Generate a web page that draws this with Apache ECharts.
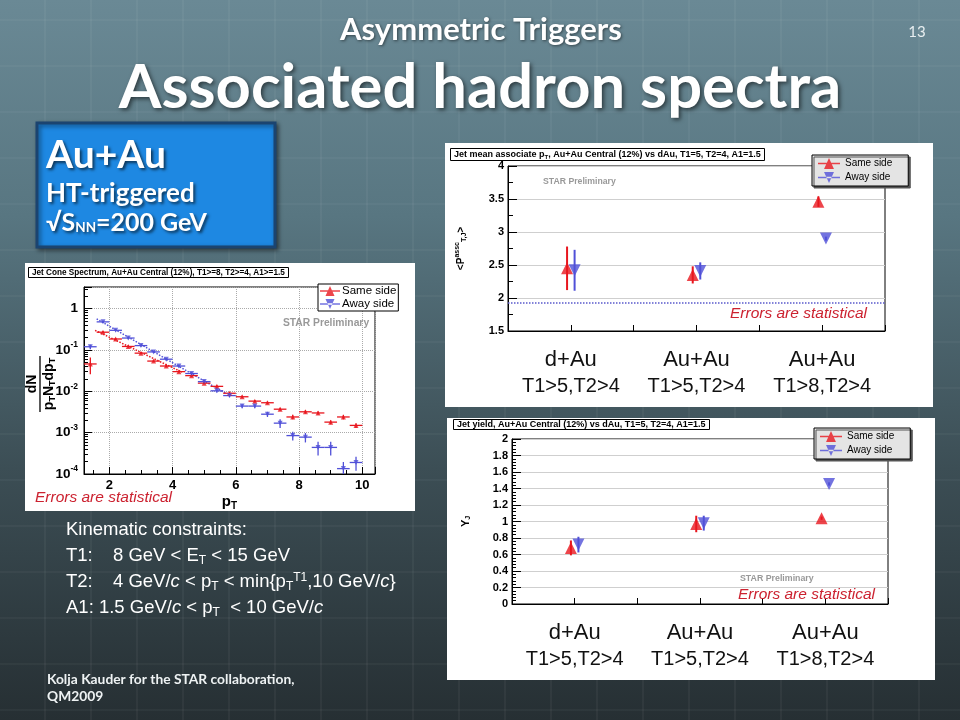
<!DOCTYPE html>
<html>
<head>
<meta charset="utf-8">
<script src="https://cdn.jsdelivr.net/npm/echarts@6/dist/echarts.min.js"></script>
<style>
html,body{margin:0;padding:0;background:#3a4a50;}
#c{width:960px;height:720px;}
</style>
</head>
<body>
<div id="c"></div>
<script>
// ---------------- data ----------------
// Jet cone spectrum (Au+Au central 12%, T1>=8, T2>=4, A1>=1.5)
const spectrumPt = [1.4,1.8,2.2,2.6,3.0,3.4,3.8,4.2,4.6,5.0,5.4,5.8,6.2,6.6,7.0,7.4,7.8,8.2,8.6,9.0,9.4,9.8];
const binHalfWidth = 0.2;
const sameSideSpec = [0.046,0.27,0.185,0.122,0.084,0.054,0.041,0.030,0.024,0.0158,0.0132,0.0090,0.0074,0.0058,0.0053,0.0037,0.0024,0.0032,0.0030,0.0018,0.0024,0.0015];
const sameSideSpecErr = [0.02,0.02,0.012,0.008,0.005,0.003,0.0025,0.0018,0.0015,0.001,0.0008,0.0006,0.0005,0.0004,0.0004,0.0003,0.0003,0.0003,0.0003,0.0002,0.0003,0.0002];
const awaySideSpec = [0.12,0.48,0.30,0.195,0.128,0.090,0.060,0.041,0.027,0.0172,0.0103,0.0079,0.0044,0.0044,0.0028,0.0017,0.00085,0.00078,0.00044,0.00044,0.000135,0.00019];
const awaySideSpecErr = [0.015,0.03,0.02,0.012,0.008,0.005,0.004,0.003,0.002,0.0015,0.0009,0.0007,0.0005,0.0005,0.0004,0.0004,0.0002,0.0002,0.00016,0.00016,0.00006,0.00007];
// exponential fits (straight on the log scale), end points
const sameSideFit = [[1.55,0.30],[4.3,0.029]];
const awaySideFit = [[1.6,0.57],[5.7,0.0088]];

// Summary panels
const systemLabels = ['d+Au','Au+Au','Au+Au'];
const triggerLabels = ['T1>5,T2>4','T1>5,T2>4','T1>8,T2>4'];
const systemPos = [1,3,5];
const meanPtSame = [2.45,2.35,3.46];
const meanPtSameErr = [0.33,0.13,0.08];
const meanPtAway = [2.42,2.41,2.90];
const meanPtAwayErr = [0.31,0.13,0.03];
const meanPtRef = 1.93;
const yieldSame = [0.68,0.97,1.04];
const yieldSameErr = [0.09,0.10,0.02];
const yieldAway = [0.72,0.98,1.455];
const yieldAwayErr = [0.095,0.09,0.02];

const spectrumTitle = 'Jet Cone Spectrum, Au+Au Central (12%), T1>=8, T2>=4, A1>=1.5';
const meanPtTitle = 'Jet mean associate p{s|T}, Au+Au Central (12%) vs dAu, T1=5, T2=4, A1=1.5';
const yieldTitle = 'Jet yield, Au+Au Central (12%) vs dAu, T1=5, T2=4, A1=1.5';
const legendNames = ['Same side','Away side'];

// ---------------- style ----------------
const RED = '#e8161e', BLUE = '#5050d8';
const AR = '"Liberation Sans", Arial, sans-serif';
const LATO = 'Lato, "Open Sans", sans-serif';
const sideOffset = 0.06;

const chart = echarts.init(document.getElementById('c'));

function specErrRender(color){
  return function(params, api){
    const x = api.value(0), y = api.value(1), e = api.value(2);
    const l = api.coord([x - binHalfWidth, y]), r = api.coord([x + binHalfWidth, y]);
    const t = api.coord([x, y + e]), b = api.coord([x, Math.max(y - e, 1e-6)]);
    return {type:'group', children:[
      {type:'line', shape:{x1:l[0],y1:l[1],x2:r[0],y2:r[1]}, style:{stroke:color,lineWidth:1.3}},
      {type:'line', shape:{x1:t[0],y1:t[1],x2:b[0],y2:b[1]}, style:{stroke:color,lineWidth:1.3}}
    ]};
  };
}
function vErrRender(color){
  return function(params, api){
    const x = api.value(0), y = api.value(1), e = api.value(2);
    const t = api.coord([x, y + e]), b = api.coord([x, y - e]);
    return {type:'line', shape:{x1:t[0],y1:t[1],x2:b[0],y2:b[1]}, style:{stroke:color,lineWidth:2}};
  };
}
const zip3 = (xs, ys, es) => xs.map((x,i) => [x, ys[i], es[i]]);
const sameX = systemPos.map(p => p - sideOffset);
const awayX = systemPos.map(p => p + sideOffset);

const iconUp = 'path://M0,9.3L20,9.3L20,10.7L0,10.7Z M5.5,15L10,5L14.5,15Z';
const iconDown = 'path://M0,9.3L20,9.3L20,10.7L0,10.7Z M5.5,5L10,15L14.5,5Z';

function catLabel(v){
  const i = systemPos.indexOf(v);
  return i < 0 ? '' : '{a|' + systemLabels[i] + '}\n{b|' + triggerLabels[i] + '}';
}
const catRich = {
  a:{fontSize:22, lineHeight:27, color:'#111', fontFamily:AR},
  b:{fontSize:20, lineHeight:27, color:'#111', fontFamily:AR}
};
function logLabel(v){
  const n = Math.round(Math.log10(v));
  return n === 0 ? '{n|1}' : '{n|10}{s|' + n + '}';
}

// background grid pattern (decoration)
const bgLines = [];
for (let x = 45; x < 960; x += 46) bgLines.push({type:'line', z:-20, silent:true, shape:{x1:x,y1:0,x2:x,y2:720}, style:{stroke:'rgba(255,255,255,0.06)', lineWidth:1.5}});
for (let y = 20; y < 720; y += 46) bgLines.push({type:'line', z:-20, silent:true, shape:{x1:0,y1:y,x2:960,y2:y}, style:{stroke:'rgba(255,255,255,0.05)', lineWidth:1.5}});

const whiteText = (t, x, y, font, extra) => Object.assign({type:'text', z:50, style:Object.assign({text:t, x:x, y:y, font:font, fill:'#fff', verticalAlign:'middle'}, extra || {})});
const boxShadow = {textShadowColor:'rgba(0,0,0,0.6)', textShadowBlur:3, textShadowOffsetX:2, textShadowOffsetY:2};

const kinRich = {
  sb:{fontSize:12, padding:[9,0,0,0], fill:'#fff', fontFamily:AR},
  sp:{fontSize:12, padding:[0,0,9,0], fill:'#fff', fontFamily:AR},
  i:{fontStyle:'italic', fontSize:18.5, fill:'#fff', fontFamily:AR}
};

const option = {
  animation:false,
  backgroundColor:{type:'linear', x:0, y:0, x2:0, y2:1, colorStops:[
    {offset:0, color:'#6a8995'}, {offset:0.3, color:'#587681'}, {offset:0.65, color:'#3c4e55'}, {offset:1, color:'#262f33'}
  ]},
  textStyle:{fontFamily:AR},
  title:[
    {text:spectrumTitle, left:28, top:267, padding:[2,4,1,4], backgroundColor:'#fff', borderColor:'#000', borderWidth:1,
     textStyle:{fontSize:8.2, fontWeight:'bold', color:'#000', fontFamily:AR}},
    {text:meanPtTitle, left:450, top:147, padding:[2,4,1,4], backgroundColor:'#fff', borderColor:'#000', borderWidth:1,
     textStyle:{fontSize:9, fontWeight:'bold', color:'#000', fontFamily:AR, rich:{s:{fontSize:6, fontWeight:'bold', padding:[5,0,0,0]}}}},
    {text:yieldTitle, left:453, top:419, padding:[1,4,1,4], backgroundColor:'#fff', borderColor:'#000', borderWidth:1,
     textStyle:{fontSize:9, fontWeight:'bold', color:'#000', fontFamily:AR}}
  ],
  legend:[
    {data:[{name:legendNames[0], icon:iconUp},{name:legendNames[1], icon:iconDown}], left:318, top:284, orient:'vertical',
     itemWidth:20, itemHeight:10, itemGap:1, padding:[1,2,1,2], backgroundColor:'#fff', borderColor:'#000', borderWidth:1,
     textStyle:{fontSize:11.5, color:'#000', fontFamily:AR, padding:[0,0,0,-3]}},
    {data:[{name:legendNames[0], icon:iconUp},{name:legendNames[1], icon:iconDown}], left:812, top:155, orient:'vertical',
     itemWidth:22, itemHeight:11, itemGap:3, padding:[3,16,3,6], backgroundColor:'#e4e4e4', borderColor:'#000', borderWidth:1,
     shadowColor:'#555', shadowOffsetX:2, shadowOffsetY:2,
     textStyle:{fontSize:10, color:'#000', fontFamily:AR}},
    {data:[{name:legendNames[0], icon:iconUp},{name:legendNames[1], icon:iconDown}], left:814, top:428, orient:'vertical',
     itemWidth:22, itemHeight:11, itemGap:3, padding:[3,16,3,6], backgroundColor:'#e4e4e4', borderColor:'#000', borderWidth:1,
     shadowColor:'#555', shadowOffsetX:2, shadowOffsetY:2,
     textStyle:{fontSize:10, color:'#000', fontFamily:AR}}
  ],
  grid:[
    {left:84, top:287, width:291, height:187, show:true, borderColor:'#000', borderWidth:1, backgroundColor:'transparent'},
    {left:508, top:166, width:377, height:165, show:true, borderColor:'#000', borderWidth:1, backgroundColor:'transparent'},
    {left:512, top:439, width:376, height:165, show:true, borderColor:'#000', borderWidth:1, backgroundColor:'transparent'}
  ],
  xAxis:[
    {gridIndex:0, type:'value', min:1.2, max:10.4, splitNumber:5,
     name:'{p|p}{s|T}', nameLocation:'middle', nameGap:19,
     nameTextStyle:{rich:{p:{fontSize:15, fontWeight:'bold', color:'#000', fontFamily:AR}, s:{fontSize:10, fontWeight:'bold', color:'#000', padding:[8,0,0,0], fontFamily:AR}}},
     axisLine:{lineStyle:{color:'#000'}}, axisTick:{inside:true, length:7, lineStyle:{color:'#000'}},
     minorTick:{show:true, splitNumber:4, length:4, lineStyle:{color:'#000'}},
     axisLabel:{fontSize:13, fontWeight:'bold', color:'#000', margin:5, showMinLabel:false, showMaxLabel:false},
     splitLine:{show:true, lineStyle:{color:'#aaa', type:'dotted'}}},
    {gridIndex:1, type:'value', min:0, max:6, interval:1,
     axisLine:{lineStyle:{color:'#000'}}, axisTick:{inside:true, length:6, lineStyle:{color:'#000'}},
     axisLabel:{formatter:catLabel, rich:catRich, margin:15}, splitLine:{show:false}},
    {gridIndex:2, type:'value', min:0, max:6, interval:1,
     axisLine:{lineStyle:{color:'#000'}}, axisTick:{inside:true, length:6, lineStyle:{color:'#000'}},
     axisLabel:{formatter:catLabel, rich:catRich, margin:15}, splitLine:{show:false}}
  ],
  yAxis:[
    {gridIndex:0, type:'log', min:1e-4, max:3.35, logBase:10,
     axisLine:{lineStyle:{color:'#000'}}, axisTick:{inside:true, length:8, lineStyle:{color:'#000'}},
     minorTick:{show:true, splitNumber:9, length:4, lineStyle:{color:'#000'}},
     axisLabel:{formatter:logLabel, showMaxLabel:false, margin:6,
       rich:{n:{fontSize:13.5, fontWeight:'bold', color:'#000', fontFamily:AR}, s:{fontSize:8.5, fontWeight:'bold', color:'#000', padding:[0,0,10,0], fontFamily:AR}}},
     splitLine:{show:true, lineStyle:{color:'#aaa', type:'dotted'}}},
    {gridIndex:1, type:'value', min:1.5, max:4, interval:0.5,
     name:'<P{sp|assc}{sb|T,J}>', nameLocation:'middle', nameGap:40,
     nameTextStyle:{fontSize:10, fontWeight:'bold', color:'#000',
       rich:{sp:{fontSize:7, fontWeight:'bold', color:'#000', padding:[0,0,7,0]}, sb:{fontSize:7, fontWeight:'bold', color:'#000', padding:[6,0,0,0]}}},
     axisLine:{lineStyle:{color:'#000'}}, axisTick:{inside:true, length:9, lineStyle:{color:'#000'}},
     minorTick:{show:true, splitNumber:2, length:5, lineStyle:{color:'#000'}},
     axisLabel:{fontSize:11, fontWeight:'bold', color:'#000', margin:4},
     splitLine:{show:true, lineStyle:{color:'#cfcfcf', width:1}}},
    {gridIndex:2, type:'value', min:0, max:2, interval:0.2,
     name:'Y{sb|J}', nameLocation:'middle', nameGap:40,
     nameTextStyle:{fontSize:11, fontWeight:'bold', color:'#000', rich:{sb:{fontSize:7, fontWeight:'bold', color:'#000', padding:[6,0,0,0]}}},
     axisLine:{lineStyle:{color:'#000'}}, axisTick:{inside:true, length:9, lineStyle:{color:'#000'}},
     minorTick:{show:true, splitNumber:5, length:4, lineStyle:{color:'#000'}},
     axisLabel:{fontSize:11, fontWeight:'bold', color:'#000', margin:4},
     splitLine:{show:true, lineStyle:{color:'#cfcfcf', width:1}}}
  ],
  series:[
    // spectrum
    {type:'line', xAxisIndex:0, yAxisIndex:0, data:awaySideFit, showSymbol:false, silent:true, lineStyle:{color:BLUE, type:'dotted', width:1.5}, z:3},
    {type:'line', xAxisIndex:0, yAxisIndex:0, data:sameSideFit, showSymbol:false, silent:true, lineStyle:{color:RED, type:'dotted', width:1.5}, z:3},
    {type:'custom', xAxisIndex:0, yAxisIndex:0, clip:true, renderItem:specErrRender(RED), data:zip3(spectrumPt, sameSideSpec, sameSideSpecErr), z:4},
    {type:'custom', xAxisIndex:0, yAxisIndex:0, clip:true, renderItem:specErrRender(BLUE), data:zip3(spectrumPt, awaySideSpec, awaySideSpecErr), z:4},
    {type:'scatter', name:legendNames[0], xAxisIndex:0, yAxisIndex:0, symbol:'triangle', symbolSize:5, itemStyle:{color:RED}, data:spectrumPt.map((x,i)=>[x, sameSideSpec[i]]), z:5},
    {type:'scatter', name:legendNames[1], xAxisIndex:0, yAxisIndex:0, symbol:'triangle', symbolRotate:180, symbolSize:5, itemStyle:{color:BLUE}, data:spectrumPt.map((x,i)=>[x, awaySideSpec[i]]), z:5},
    // mean pT
    {type:'custom', xAxisIndex:1, yAxisIndex:1, renderItem:vErrRender(RED), data:zip3(sameX, meanPtSame, meanPtSameErr), z:4,
     markLine:{silent:true, symbol:'none', label:{show:false}, lineStyle:{color:'#5a5acc', type:'dotted', width:1.5}, data:[{yAxis:meanPtRef}]}},
    {type:'custom', xAxisIndex:1, yAxisIndex:1, renderItem:vErrRender(BLUE), data:zip3(awayX, meanPtAway, meanPtAwayErr), z:4},
    {type:'scatter', name:legendNames[0], xAxisIndex:1, yAxisIndex:1, symbol:'triangle', symbolSize:12, itemStyle:{color:RED}, data:sameX.map((x,i)=>[x, meanPtSame[i]]), z:5},
    {type:'scatter', name:legendNames[1], xAxisIndex:1, yAxisIndex:1, symbol:'triangle', symbolRotate:180, symbolSize:12, itemStyle:{color:BLUE}, data:awayX.map((x,i)=>[x, meanPtAway[i]]), z:5},
    // jet yield
    {type:'custom', xAxisIndex:2, yAxisIndex:2, renderItem:vErrRender(RED), data:zip3(sameX, yieldSame, yieldSameErr), z:4},
    {type:'custom', xAxisIndex:2, yAxisIndex:2, renderItem:vErrRender(BLUE), data:zip3(awayX, yieldAway, yieldAwayErr), z:4},
    {type:'scatter', name:legendNames[0], xAxisIndex:2, yAxisIndex:2, symbol:'triangle', symbolSize:12, itemStyle:{color:RED}, data:sameX.map((x,i)=>[x, yieldSame[i]]), z:5},
    {type:'scatter', name:legendNames[1], xAxisIndex:2, yAxisIndex:2, symbol:'triangle', symbolRotate:180, symbolSize:12, itemStyle:{color:BLUE}, data:awayX.map((x,i)=>[x, yieldAway[i]]), z:5}
  ],
  graphic:{elements: bgLines.concat([
    // panels
    {type:'rect', z:-10, silent:true, shape:{x:25, y:263, width:390, height:248}, style:{fill:'#fff'}},
    {type:'rect', z:-10, silent:true, shape:{x:445, y:143, width:488, height:264}, style:{fill:'#fff'}},
    {type:'rect', z:-10, silent:true, shape:{x:447, y:418, width:488, height:262}, style:{fill:'#fff'}},
    // blue box
    {type:'rect', z:-5, silent:true, shape:{x:37, y:123, width:238, height:124},
     style:{fill:'#1e88e2', stroke:'#1b4470', lineWidth:3, shadowColor:'rgba(0,0,0,0.45)', shadowBlur:4, shadowOffsetX:2, shadowOffsetY:2}},
    // slide titles
    whiteText('Asymmetric Triggers', 481, 30, 'bold 31px ' + LATO, {align:'center', textShadowColor:'rgba(0,0,0,0.5)', textShadowBlur:3, textShadowOffsetX:1, textShadowOffsetY:1}),
    whiteText('Associated hadron spectra', 480, 88, 'bold 61.5px ' + LATO, {align:'center', textShadowColor:'rgba(0,0,0,0.55)', textShadowBlur:4, textShadowOffsetX:2, textShadowOffsetY:2}),
    whiteText('13', 917, 32, '15px ' + LATO, {align:'center', fill:'#e8eef0'}),
    // blue box text
    whiteText('Au+Au', 46, 155, 'bold 39px ' + LATO, boxShadow),
    whiteText('HT-triggered', 46, 194, 'bold 26px ' + LATO, boxShadow),
    {type:'text', z:50, style:Object.assign({text:'√S{sb|NN}=200 GeV', x:46, y:223, verticalAlign:'middle', font:'bold 25px ' + LATO, fill:'#fff',
      rich:{sb:{fontSize:13.5, fontWeight:'bold', fontFamily:LATO, fill:'#fff', padding:[10,0,0,0]}}}, boxShadow)},
    // texts inside plots
    {type:'text', z:50, style:{text:'STAR Preliminary', x:326, y:323, align:'center', verticalAlign:'middle', font:'bold 10.3px ' + AR, fill:'#999'}},
    {type:'text', z:50, style:{text:'Errors are statistical', x:35, y:498, verticalAlign:'middle', font:'italic 15.5px ' + AR, fill:'#cc2230'}},
    {type:'text', z:50, style:{text:'STAR Preliminary', x:543, y:182, verticalAlign:'middle', font:'bold 8.7px ' + AR, fill:'#999'}},
    {type:'text', z:50, style:{text:'Errors are statistical', x:730, y:314, verticalAlign:'middle', font:'italic 15.5px ' + AR, fill:'#cc2230'}},
    {type:'text', z:50, style:{text:'STAR Preliminary', x:740, y:579, verticalAlign:'middle', font:'bold 8.8px ' + AR, fill:'#999'}},
    {type:'text', z:50, style:{text:'Errors are statistical', x:738, y:595, verticalAlign:'middle', font:'italic 15.5px ' + AR, fill:'#cc2230'}},
    // spectrum y-axis title (fraction)
    {type:'group', z:50, x:40, y:384, rotation:Math.PI/2, children:[
      {type:'text', style:{text:'dN', x:0, y:-1, align:'center', verticalAlign:'bottom', font:'bold 14px ' + AR, fill:'#000'}},
      {type:'line', shape:{x1:-28, y1:0, x2:28, y2:0}, style:{stroke:'#000', lineWidth:1.3}},
      {type:'text', style:{text:'p{s|T}N{s|T}dp{s|T}', x:0, y:1, align:'center', verticalAlign:'top', font:'bold 14px ' + AR, fill:'#000',
        rich:{s:{fontSize:9, fontWeight:'bold', fontFamily:AR, fill:'#000', padding:[7,0,0,0]}}}}
    ]},
    // kinematic constraints
    whiteText('Kinematic constraints:', 66, 530, '18.5px ' + AR),
    whiteText('T1:', 66, 556, '18.5px ' + AR),
    {type:'text', z:50, style:{text:'8 GeV < E{sb|T} < 15 GeV', x:113, y:556, verticalAlign:'middle', font:'18.5px ' + AR, fill:'#fff', rich:kinRich}},
    whiteText('T2:', 66, 582, '18.5px ' + AR),
    {type:'text', z:50, style:{text:'4 GeV/{i|c} < p{sb|T} < min{p{sb|T}{sp|T1},10 GeV/{i|c}}', x:113, y:582, verticalAlign:'middle', font:'18.5px ' + AR, fill:'#fff', rich:kinRich}},
    {type:'text', z:50, style:{text:'A1: 1.5 GeV/{i|c} < p{sb|T}  < 10 GeV/{i|c}', x:66, y:608, verticalAlign:'middle', font:'18.5px ' + AR, fill:'#fff', rich:kinRich}},
    // footer
    whiteText('Kolja Kauder for the STAR collaboration,', 47, 680, 'bold 13.8px ' + LATO, {fill:'#eef2f3'}),
    whiteText('QM2009', 47, 697, 'bold 13.8px ' + LATO, {fill:'#eef2f3'})
  ])}
};
chart.setOption(option);
</script>
</body>
</html>
